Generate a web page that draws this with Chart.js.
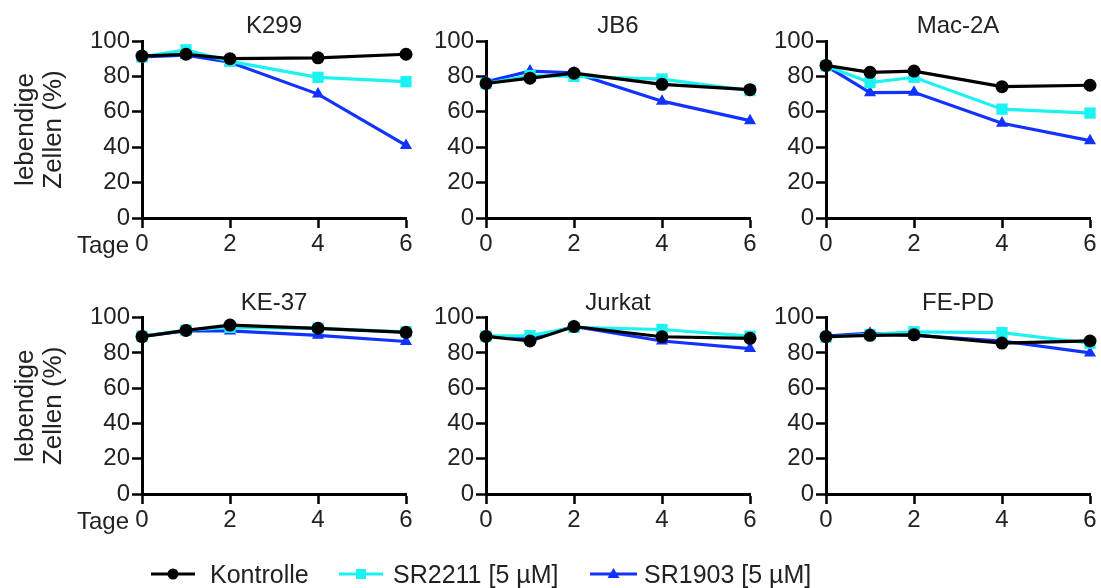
<!DOCTYPE html>
<html>
<head>
<meta charset="utf-8">
<script src="https://cdn.jsdelivr.net/npm/chart.js@4.4.1/dist/chart.umd.min.js"></script>
<style>
  html, body { margin: 0; padding: 0; background: #fff; }
  body { width: 1101px; height: 588px; position: relative; overflow: hidden;
         font-family: 'Liberation Sans', Arial, sans-serif; color: #222; }
  .pane { position: absolute; }
  .title { position: absolute; font-size: 24px; line-height: 28px; text-align: center; width: 200px; }
  .tage { position: absolute; font-size: 24px; line-height: 28px; text-align: right; width: 90px; }
  .legsym { position: absolute; top: 564px; }
  .legtxt { position: absolute; top: 560px; font-size: 25px; line-height: 28px; white-space: nowrap; }
</style>
</head>
<body>
<script>
// ---- data ----
const days = [0, 1, 2, 4, 6];
const seriesNames = ['Kontrolle', 'SR2211 [5 µM]', 'SR1903 [5 µM]'];
const panelTitles = ['K299', 'JB6', 'Mac-2A', 'KE-37', 'Jurkat', 'FE-PD'];
const yTicks = [0, 20, 40, 60, 80, 100];
const xTicks = [0, 2, 4, 6];

const K299_ctrl   = [91.5, 92.5, 90.0, 90.5, 92.5];
const K299_sr2211 = [91.0, 95.0, 88.5, 79.5, 77.0];
const K299_sr1903 = [91.0, 92.0, 88.0, 70.0, 41.0];

const JB6_ctrl   = [76.0, 79.0, 81.8, 75.5, 72.5];
const JB6_sr2211 = [76.0, 80.5, 80.0, 78.5, 72.0];
const JB6_sr1903 = [77.0, 83.0, 82.0, 66.0, 55.0];

const Mac2A_ctrl   = [86.2, 82.3, 83.0, 74.2, 75.0];
const Mac2A_sr2211 = [86.0, 76.5, 79.5, 61.5, 59.3];
const Mac2A_sr1903 = [86.0, 70.8, 71.0, 53.5, 43.7];

const KE37_ctrl   = [89.3, 92.8, 95.8, 94.0, 91.7];
const KE37_sr2211 = [89.5, 93.0, 94.5, 94.0, 92.0];
const KE37_sr1903 = [89.5, 92.5, 92.5, 90.0, 86.5];

const Jurkat_ctrl   = [89.4, 86.8, 95.0, 89.2, 88.3];
const Jurkat_sr2211 = [89.5, 89.8, 94.5, 93.3, 89.5];
const Jurkat_sr1903 = [89.5, 88.5, 95.0, 86.8, 82.5];

const FEPD_ctrl   = [89.3, 90.0, 90.3, 85.6, 86.8];
const FEPD_sr2211 = [89.0, 90.5, 92.0, 91.5, 85.5];
const FEPD_sr1903 = [89.5, 91.2, 90.0, 86.8, 80.0];

const panelData = [
  [K299_ctrl, K299_sr2211, K299_sr1903],
  [JB6_ctrl, JB6_sr2211, JB6_sr1903],
  [Mac2A_ctrl, Mac2A_sr2211, Mac2A_sr1903],
  [KE37_ctrl, KE37_sr2211, KE37_sr1903],
  [Jurkat_ctrl, Jurkat_sr2211, Jurkat_sr1903],
  [FEPD_ctrl, FEPD_sr2211, FEPD_sr1903]
];

// ---- styles ----
const colors = ['#000000', '#1CF2F2', '#1233FF'];
const pointStyles = ['circle', 'rect', 'triangle'];
const pointRadii = [6.5, 8, 7];

Chart.defaults.font.family = "'Liberation Sans', Arial, sans-serif";
Chart.defaults.color = '#222';
Chart.defaults.animation = false;

// layout: [canvasLeft, canvasWidth, yAxisWidth, padRight]
const cols = [[0, 420, 142, 14], [430, 330, 56, 10], [770, 331, 56, 11]];
// rows: [canvasTop, canvasHeight, padTop, xAxisHeight]
const rows = [[0, 270, 41, 52], [277, 270, 40.7, 53]];

function makePanel(idx) {
  const c = idx % 3, r = Math.floor(idx / 3);
  const [cl, cw, yw, pr] = cols[c];
  const [rt, rh, pt, xh] = rows[r];
  const cv = document.createElement('canvas');
  cv.className = 'pane';
  cv.style.left = cl + 'px'; cv.style.top = rt + 'px';
  cv.style.width = cw + 'px'; cv.style.height = rh + 'px';
  cv.width = cw; cv.height = rh;
  document.body.appendChild(cv);

  const left = cl + yw, right = cl + cw - pr;
  const t = document.createElement('div');
  t.className = 'title';
  t.textContent = panelTitles[idx];
  t.style.left = ((left + right) / 2 - 100) + 'px';
  t.style.top = (r === 0 ? 11 : 288) + 'px';
  document.body.appendChild(t);

  if (c === 0) {
    const tg = document.createElement('div');
    tg.className = 'tage';
    tg.textContent = 'Tage';
    tg.style.left = (129 - 90) + 'px';
    tg.style.top = (r === 0 ? 231 : 507) + 'px';
    document.body.appendChild(tg);
  }

  const datasets = panelData[idx].map((vals, i) => ({
    label: seriesNames[i],
    data: days.map((d, k) => ({ x: d, y: vals[k] })),
    borderColor: colors[i],
    backgroundColor: colors[i],
    borderWidth: 3.2,
    pointStyle: pointStyles[i],
    pointRadius: pointRadii[i],
    pointBorderWidth: 0,
    pointBackgroundColor: colors[i],
    tension: 0,
    clip: false
  }));

  new Chart(cv, {
    type: 'line',
    data: { datasets },
    options: {
      responsive: false,
      animation: false,
      layout: { padding: { left: 0, right: pr, top: pt, bottom: 0 } },
      plugins: { legend: { display: false }, tooltip: { enabled: false }, title: { display: false } },
      scales: {
        x: {
          type: 'linear', min: 0, max: 6,
          afterFit: s => { s.height = xh; },
          afterBuildTicks: s => { s.ticks = xTicks.map(v => ({ value: v })); },
          ticks: { font: { size: 24 }, color: '#222', padding: 2, maxRotation: 0 },
          grid: { display: true, drawOnChartArea: false, drawTicks: true, tickLength: 10, tickColor: '#000', tickWidth: 2.5 },
          border: { display: true, color: '#000', width: 3 }
        },
        y: {
          type: 'linear', min: 0, max: 100,
          afterFit: s => { s.width = yw; },
          afterBuildTicks: s => { s.ticks = yTicks.map(v => ({ value: v })); },
          ticks: { font: { size: 24 }, color: '#222', padding: 2 },
          grid: { display: true, drawOnChartArea: false, drawTicks: true, tickLength: 10, tickColor: '#000', tickWidth: 2.5 },
          border: { display: true, color: '#000', width: 3 },
          title: {
            display: c === 0,
            text: ['lebendige', 'Zellen (%)'],
            font: { size: 26, lineHeight: 1.06 },
            color: '#222',
            padding: { top: 12, bottom: 0 }
          }
        }
      }
    }
  });
}

for (let i = 0; i < 6; i++) makePanel(i);

// ---- legend ----
// [symbolLeft, symbolWidth, textLeft]
const legendPos = [[151, 44, 210], [339, 44, 393], [590, 47, 644]];
function legendSymbol(i, w) {
  const ns = 'http://www.w3.org/2000/svg';
  const svg = document.createElementNS(ns, 'svg');
  svg.setAttribute('width', w); svg.setAttribute('height', 20);
  const line = document.createElementNS(ns, 'line');
  line.setAttribute('x1', 0); line.setAttribute('x2', w);
  line.setAttribute('y1', 10); line.setAttribute('y2', 10);
  line.setAttribute('stroke', colors[i]); line.setAttribute('stroke-width', 3);
  svg.appendChild(line);
  const cx = w / 2;
  let m;
  if (i === 0) {
    m = document.createElementNS(ns, 'circle');
    m.setAttribute('cx', cx); m.setAttribute('cy', 10); m.setAttribute('r', 5.5);
  } else if (i === 1) {
    m = document.createElementNS(ns, 'rect');
    m.setAttribute('x', cx - 5); m.setAttribute('y', 5); m.setAttribute('width', 10); m.setAttribute('height', 10);
  } else {
    m = document.createElementNS(ns, 'polygon');
    m.setAttribute('points', `${cx},4 ${cx + 6},14 ${cx - 6},14`);
  }
  m.setAttribute('fill', colors[i]);
  svg.appendChild(m);
  return svg;
}
seriesNames.forEach((name, i) => {
  const sym = legendSymbol(i, legendPos[i][1]);
  sym.setAttribute('class', 'legsym');
  sym.style.left = legendPos[i][0] + 'px';
  document.body.appendChild(sym);
  const s = document.createElement('div');
  s.className = 'legtxt';
  s.style.left = legendPos[i][2] + 'px';
  s.textContent = name;
  document.body.appendChild(s);
});
</script>
</body>
</html>
